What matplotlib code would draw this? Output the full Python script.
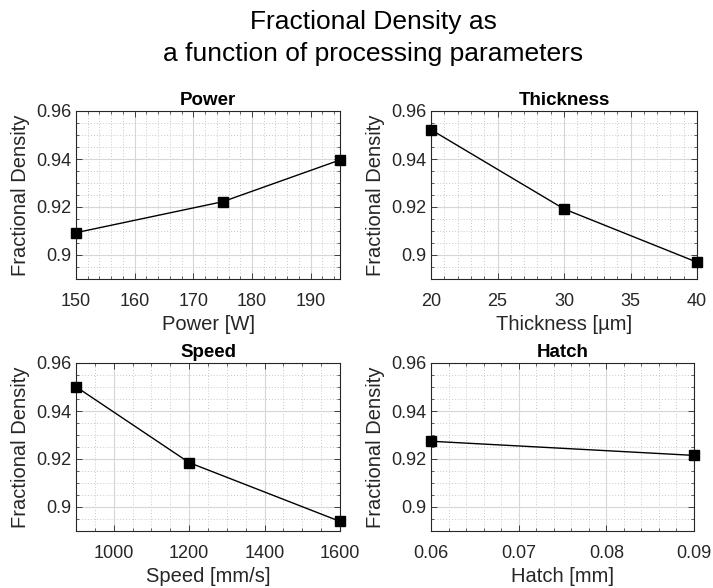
import matplotlib
matplotlib.use("Agg")
import matplotlib.pyplot as plt
from matplotlib.ticker import MultipleLocator, FuncFormatter

plt.rcParams['font.family'] = ['Liberation Sans', 'DejaVu Sans']

# Measured fractional density for each processing parameter
power = [150, 175, 195]
power_density = [0.9093, 0.9222, 0.9396]

thickness = [20, 30, 40]
thickness_density = [0.9522, 0.9192, 0.8970]

speed = [900, 1200, 1600]
speed_density = [0.9501, 0.9185, 0.8940]

hatch = [0.06, 0.09]
hatch_density = [0.9274, 0.9215]

titles = ["Power", "Thickness", "Speed", "Hatch"]
xlabels = ["Power [W]", "Thickness [µm]", "Speed [mm/s]", "Hatch [mm]"]
ylabel = "Fractional Density"
y_ticks = [0.9, 0.92, 0.94, 0.96]

W, H = 713, 588
fig = plt.figure(figsize=(W / 100, H / 100), dpi=100)
fig.patch.set_facecolor("white")

def px_axes(left, top, right, bottom):
    return fig.add_axes([left / W, 1 - bottom / H, (right - left) / W, (bottom - top) / H])

panels = [
    (px_axes(76, 111, 340, 279), power, power_density, (150, 195), 10, 2),
    (px_axes(431, 111, 697, 279), thickness, thickness_density, (20, 40), 5, 1),
    (px_axes(76, 363, 340, 531), speed, speed_density, (900, 1600), 200, 50),
    (px_axes(431, 363, 694, 531), hatch, hatch_density, (0.06, 0.09), 0.01, 0.002),
]

axis_col = "#262626"
fmt = FuncFormatter(lambda v, p: f"{v:g}")

for (ax, x, y, xlim, major, minor), title, xlabel in zip(panels, titles, xlabels):
    ax.plot(x, y, color="black", lw=1.0, marker="s", markersize=7,
            markerfacecolor="black", markeredgecolor="black", zorder=3, clip_on=False)
    ax.set_xlim(*xlim)
    ax.set_ylim(0.89, 0.96)
    ax.xaxis.set_major_locator(MultipleLocator(major))
    ax.xaxis.set_minor_locator(MultipleLocator(minor))
    ax.set_yticks(y_ticks)
    ax.yaxis.set_minor_locator(MultipleLocator(0.005))
    ax.xaxis.set_major_formatter(fmt)
    ax.yaxis.set_major_formatter(fmt)
    ax.grid(True, which="major", color="#d6d6d6", lw=0.8)
    ax.grid(True, which="minor", color="#c8c8c8", lw=0.7, linestyle=(0, (1, 2)))
    ax.set_axisbelow(True)
    ax.tick_params(which="both", direction="in", colors=axis_col, labelsize=13,
                   top=True, right=True)
    ax.tick_params(which="major", length=4, width=0.6)
    ax.tick_params(which="minor", length=2, width=0.5)
    ax.tick_params(axis="x", which="major", pad=10)
    for s in ax.spines.values():
        s.set_color(axis_col)
        s.set_linewidth(0.8)
    ax.set_title(title, fontsize=13.5, fontweight="bold", color="black", pad=4)
    ax.set_xlabel(xlabel, fontsize=14.5, color=axis_col, labelpad=4)
    ax.set_ylabel(ylabel, fontsize=14.5, color=axis_col, labelpad=4)

fig.text(373 / W, 1 - 38 / H, "Fractional Density as\na function of processing parameters",
         ha="center", va="center", fontsize=19, color="black", linespacing=1.45)

fig.savefig("out.png", dpi=100, facecolor="white")
